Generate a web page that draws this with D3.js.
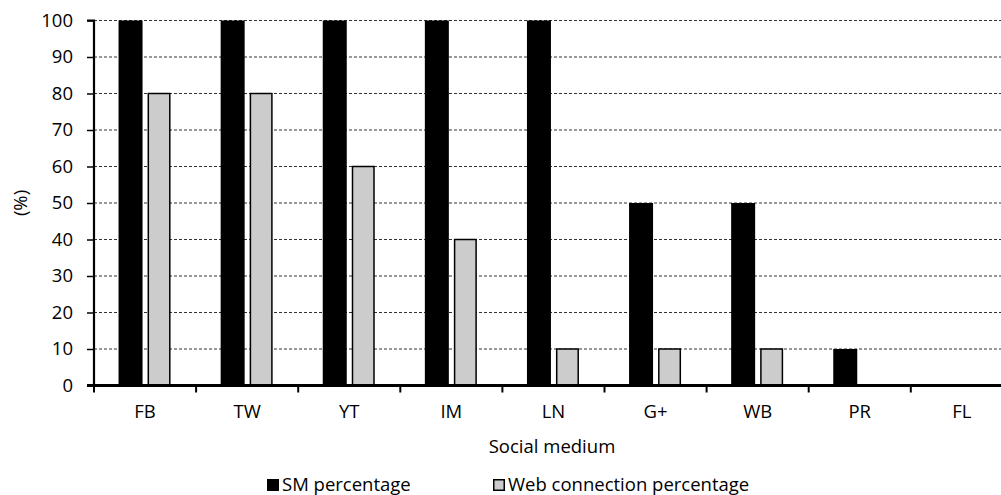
<!DOCTYPE html>
<html>
<head>
<meta charset="utf-8">
<script src="https://cdn.jsdelivr.net/npm/d3@7"></script>
<style>
  body { margin: 0; background: #fff; }
  svg { display: block; font-family: "Open Sans", sans-serif; }
</style>
</head>
<body>
<div class="chart"></div>
<script>
const categories = ["FB", "TW", "YT", "IM", "LN", "G+", "WB", "PR", "FL"];
const smValues = [100, 100, 100, 100, 100, 50, 50, 10, 0];
const webValues = [80, 80, 60, 40, 10, 10, 10, 0, 0];
const seriesNames = ["SM percentage", "Web connection percentage"];
const yTicks = [0, 10, 20, 30, 40, 50, 60, 70, 80, 90, 100];

const W = 1001, H = 495;
const margin = {top: 20.5, left: 94};
const bandW = 102.1;
const plotH = 365;
const fontSize = '18.5px';

const svg = d3.select('.chart').append('svg')
    .attr('width', W)
    .attr('height', H);

const xScale = d3.scaleBand()
    .domain(categories)
    .range([margin.left, margin.left + bandW * categories.length]);

const yScale = d3.scaleLinear()
    .domain([0, 100])
    .range([margin.top + plotH, margin.top]);

// gridlines
svg.append('g')
    .selectAll('line')
    .data(yTicks.filter(d => d > 0))
    .enter()
    .append('line')
    .attr('x1', margin.left)
    .attr('x2', W)
    .attr('y1', d => yScale(d))
    .attr('y2', d => yScale(d))
    .attr('stroke', '#333')
    .attr('stroke-width', 1)
    .attr('stroke-dasharray', '3,2');

// bars
const barW = 24, gap = 5;
const rows = categories.map((c, i) => ({cat: c, sm: smValues[i], web: webValues[i]}));

svg.append('g')
    .selectAll('rect')
    .data(rows.filter(d => d.sm > 0))
    .enter()
    .append('rect')
    .attr('x', d => xScale(d.cat) + xScale.bandwidth() / 2 - gap / 2 - barW)
    .attr('y', d => yScale(d.sm))
    .attr('width', barW)
    .attr('height', d => yScale(0) - yScale(d.sm))
    .attr('fill', '#000');

svg.append('g')
    .selectAll('rect')
    .data(rows.filter(d => d.web > 0))
    .enter()
    .append('rect')
    .attr('x', d => xScale(d.cat) + xScale.bandwidth() / 2 + gap / 2 + 0.75)
    .attr('y', d => yScale(d.web))
    .attr('width', barW - 2.5)
    .attr('height', d => yScale(0) - yScale(d.web))
    .attr('fill', '#cccccc')
    .attr('stroke', '#000')
    .attr('stroke-width', 1.5);

// y axis
const yAxis = d3.axisLeft(yScale)
    .tickValues(yTicks)
    .tickSize(7)
    .tickPadding(14);

const yG = svg.append('g')
    .attr('transform', `translate(${margin.left},0)`)
    .call(yAxis);
yG.select('.domain').attr('stroke', '#000').attr('stroke-width', 2.2)
    .attr('d', `M-7,${yScale(100)}H0V${yScale(0)}`);
yG.selectAll('.tick line').attr('stroke-width', 1.5);
yG.selectAll('.tick text').style('font-size', fontSize).attr('fill', '#000')
    .attr('font-family', '"Open Sans", sans-serif');

// x axis
const xAxis = d3.axisBottom(xScale)
    .tickSize(0)
    .tickPadding(19);

const xG = svg.append('g')
    .attr('transform', `translate(0,${yScale(0)})`)
    .call(xAxis);
xG.select('.domain').attr('stroke', '#000').attr('stroke-width', 3)
    .attr('d', `M${margin.left - 7},0H${W + 20}`);
xG.selectAll('.tick text').style('font-size', fontSize).attr('fill', '#000')
    .attr('font-family', '"Open Sans", sans-serif');

// category boundary ticks
svg.append('g')
    .selectAll('line')
    .data(categories)
    .enter()
    .append('line')
    .attr('x1', d => xScale(d))
    .attr('x2', d => xScale(d))
    .attr('y1', yScale(0))
    .attr('y2', yScale(0) + 7)
    .attr('stroke', '#000')
    .attr('stroke-width', 2);

// axis titles
svg.append('text')
    .attr('transform', `translate(27,${margin.top + plotH / 2}) rotate(-90)`)
    .attr('text-anchor', 'middle')
    .style('font-size', fontSize)
    .text('(%)');

svg.append('text')
    .attr('x', 552)
    .attr('y', 453)
    .attr('text-anchor', 'middle')
    .style('font-size', fontSize)
    .text('Social medium');

// legend
const legendX = [267, 493];
const legendFill = ['#000', '#cccccc'];
const legend = svg.append('g')
    .selectAll('g')
    .data(seriesNames)
    .enter()
    .append('g')
    .attr('transform', (d, i) => `translate(${legendX[i]},0)`);

legend.append('rect')
    .attr('x', (d, i) => i ? 0.75 : 0)
    .attr('y', (d, i) => i ? 479.75 : 479)
    .attr('width', (d, i) => i ? 10.5 : 12)
    .attr('height', (d, i) => i ? 10.5 : 12)
    .attr('fill', (d, i) => legendFill[i])
    .attr('stroke', '#000')
    .attr('stroke-width', (d, i) => i ? 1.5 : 0);

legend.append('text')
    .attr('x', 15)
    .attr('y', 491)
    .style('font-size', fontSize)
    .text(d => d);
</script>
</body>
</html>
